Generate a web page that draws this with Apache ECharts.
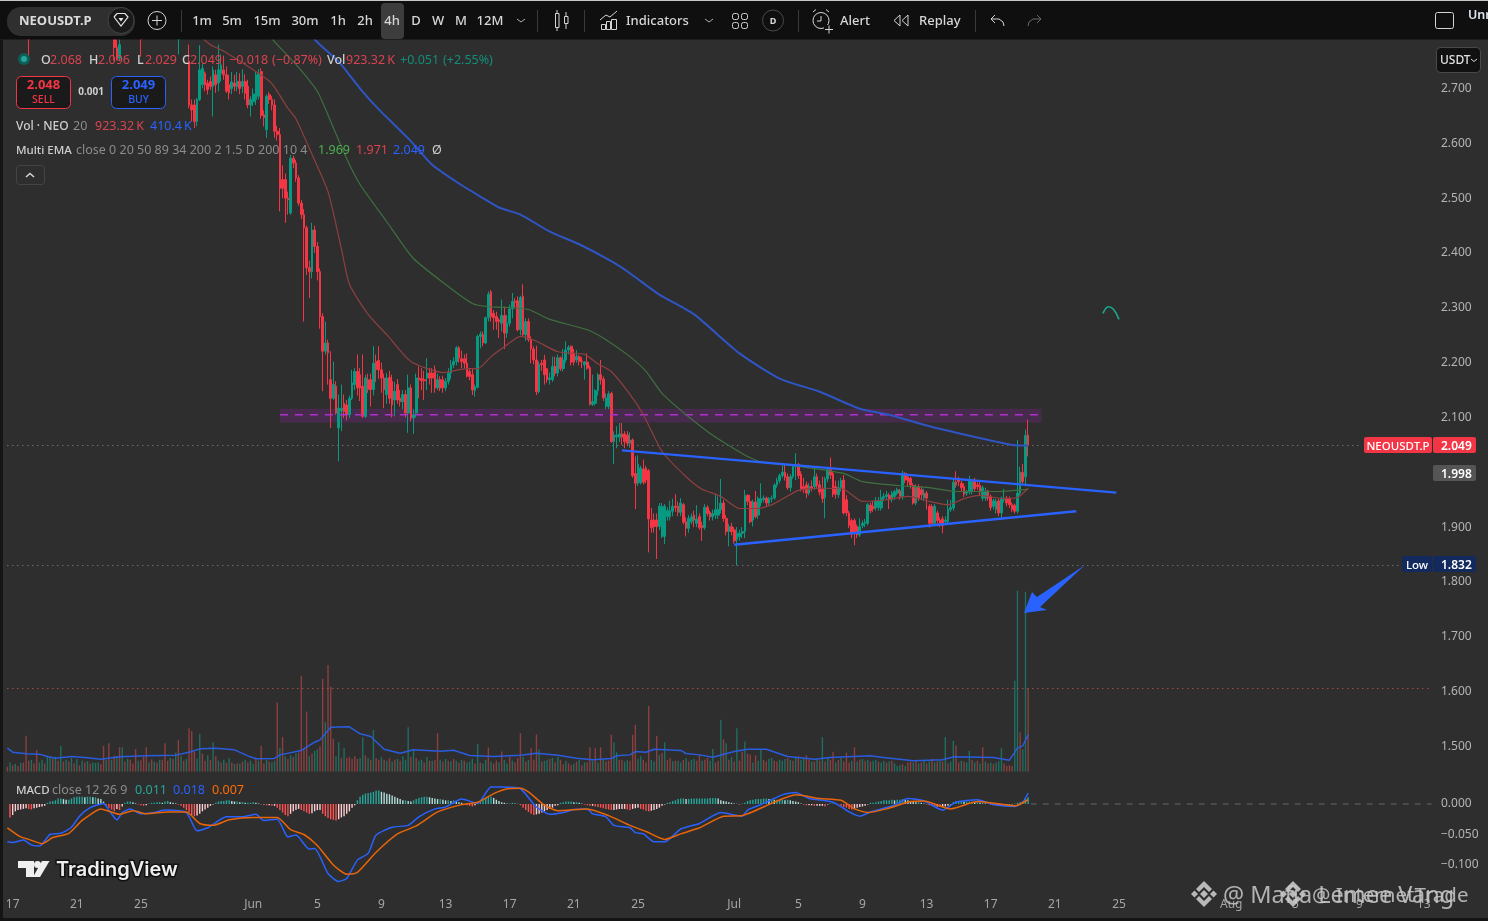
<!DOCTYPE html>
<html><head><meta charset="utf-8">
<script src="https://cdn.jsdelivr.net/npm/echarts@6/dist/echarts.min.js"></script>
<style>html,body{margin:0;padding:0;background:#2e2e2e}#c{width:1488px;height:921px}</style>
</head><body><div id="c"></div>
<script>
const _ = null;
const barCount = 534;
const tickLabels = ['17','21','25','Jun','5','9','13','17','21','25','Jul','5','9','13','17','21','25','Aug','5','9','13'];
const tickDays = [0,4,8,15,19,23,27,31,35,39,45,49,53,57,61,65,69,76,80,84,88];
const yPriceTicks = [1.4, 2.8, 0.1];
// bars that only poke into the top of the pane  [open, close, low, high]
const earlyCandles = [_,_,_,_,_,_,_,_,[2.80,2.79,2.751,2.81],_,_,_,_,_,_,_,_,_,_,_,_,_,_,_,_,_,_,_,_,_,_,_,_,_,_,_,_,_,_,_,
[2.80,2.775,2.751,2.81],[2.775,2.755,2.751,2.80],[2.755,2.78,2.75,2.81],_,_,_,_,_,_,_,[2.80,2.79,2.758,2.81],_,_,_,_,_,_,_,_,_,_,_,_,_,[2.79,2.80,2.762,2.81],_,_,_];
// visible candles [open, close, low, high]
const candlesMay = [
[2.750,2.670,2.664,2.780],[2.670,2.661,2.640,2.680],[2.670,2.640,2.628,2.680],[2.640,2.680,2.631,2.683],[2.680,2.734,2.677,2.779],[2.707,2.737,2.700,2.745],[2.728,2.707,2.695,2.731],[2.710,2.698,2.689,2.716],[2.713,2.704,2.698,2.722],[2.704,2.734,2.649,2.740],
[2.725,2.707,2.692,2.734],[2.710,2.734,2.695,2.780],[2.728,2.743,2.713,2.762],[2.734,2.725,2.716,2.760],[2.725,2.695,2.692,2.740],[2.707,2.692,2.680,2.725],[2.700,2.712,2.690,2.730],[2.710,2.704,2.695,2.725],[2.704,2.713,2.695,2.730],[2.713,2.700,2.690,2.728],
[2.704,2.713,2.692,2.735],[2.713,2.692,2.680,2.726],[2.704,2.670,2.664,2.716],[2.670,2.680,2.649,2.686],[2.676,2.690,2.668,2.700],[2.680,2.725,2.670,2.731],[2.686,2.728,2.680,2.735],[2.731,2.651,2.645,2.737],[2.652,2.647,2.631,2.660],[2.625,2.686,2.610,2.689],
[2.689,2.680,2.672,2.694],[2.680,2.670,2.660,2.686],[2.670,2.622,2.610,2.680],[2.622,2.616,2.605,2.632],[2.616,2.518,2.476,2.628],[2.534,2.518,2.500,2.560],[2.534,2.500,2.455,2.545],[2.500,2.497,2.470,2.512],[2.473,2.573,2.470,2.579],[2.573,2.564,2.555,2.578],
[2.564,2.537,2.530,2.570],[2.537,2.491,2.486,2.542],[2.491,2.470,2.462,2.497],[2.470,2.446,2.275,2.480],[2.446,2.373,2.360,2.450],[2.373,2.366,2.318,2.386],[2.366,2.442,2.354,2.455],[2.442,2.412,2.400,2.450],[2.412,2.366,2.350,2.420],[2.366,2.284,2.262,2.372],
[2.284,2.221,2.148,2.290],[2.221,2.236,2.215,2.275],[2.236,2.218,2.160,2.242],[2.169,2.135,2.081,2.221],[2.135,2.160,2.132,2.202],[2.157,2.108,2.105,2.166],[2.081,2.117,2.020,2.142],[2.112,2.117,2.075,2.160],[2.126,2.111,2.099,2.142],[2.123,2.105,2.095,2.132],
[2.105,2.135,2.099,2.140],[2.135,2.163,2.132,2.187],[2.160,2.184,2.150,2.190],[2.184,2.154,2.140,2.215],[2.178,2.154,2.130,2.190],[2.157,2.102,2.099,2.215],[2.102,2.172,2.099,2.178],[2.169,2.151,2.145,2.180],[2.169,2.151,2.120,2.180],[2.151,2.199,2.140,2.230],
[2.202,2.187,2.165,2.215],[2.204,2.187,2.170,2.230],[2.187,2.172,2.145,2.200],[2.172,2.151,2.117,2.180],[2.142,2.172,2.125,2.181],[2.173,2.135,2.125,2.185],[2.166,2.123,2.100,2.178],[2.132,2.148,2.102,2.165],[2.160,2.132,2.125,2.170],[2.135,2.129,2.120,2.150],
[2.129,2.142,2.115,2.150],[2.142,2.108,2.100,2.150],[2.108,2.154,2.072,2.178],[2.154,2.099,2.093,2.160],[2.099,2.105,2.070,2.115],[2.108,2.172,2.100,2.180],[2.172,2.169,2.135,2.193],[2.171,2.167,2.150,2.190],[2.169,2.167,2.132,2.185],[2.172,2.181,2.150,2.208],
[2.181,2.172,2.160,2.190],[2.181,2.172,2.145,2.190],[2.187,2.154,2.145,2.195],[2.154,2.169,2.150,2.180],[2.169,2.154,2.148,2.175],[2.169,2.154,2.145,2.176],[2.154,2.166,2.148,2.172],[2.166,2.181,2.160,2.190],[2.181,2.196,2.170,2.205],[2.196,2.202,2.190,2.210],
[2.202,2.227,2.195,2.230],[2.227,2.208,2.200,2.230]];
const candlesJune = [
[2.207,2.202,2.190,2.222],[2.207,2.199,2.190,2.215],[2.199,2.175,2.173,2.217],[2.184,2.175,2.168,2.190],[2.178,2.150,2.141,2.190],[2.149,2.156,2.138,2.160],[2.155,2.248,2.153,2.251],[2.248,2.252,2.226,2.257],[2.251,2.236,2.230,2.257],[2.236,2.282,2.234,2.284],
[2.282,2.325,2.275,2.330],[2.329,2.284,2.275,2.333],[2.290,2.282,2.260,2.296],[2.284,2.275,2.260,2.293],[2.278,2.275,2.245,2.281],[2.272,2.286,2.257,2.315],[2.286,2.254,2.225,2.302],[2.254,2.272,2.245,2.287],[2.272,2.298,2.266,2.306],[2.298,2.312,2.281,2.327],
[2.312,2.310,2.300,2.318],[2.313,2.260,2.257,2.321],[2.260,2.319,2.250,2.322],[2.321,2.251,2.248,2.343],[2.251,2.275,2.240,2.281],[2.275,2.242,2.238,2.281],[2.242,2.225,2.199,2.248],[2.225,2.205,2.197,2.230],[2.205,2.147,2.141,2.231],[2.147,2.197,2.144,2.202],
[2.199,2.196,2.185,2.205],[2.205,2.178,2.160,2.214],[2.189,2.169,2.163,2.190],[2.169,2.172,2.160,2.182],[2.169,2.193,2.165,2.211],[2.193,2.181,2.175,2.211],[2.181,2.209,2.175,2.215],[2.209,2.189,2.185,2.211],[2.189,2.205,2.184,2.225],[2.205,2.223,2.200,2.239],
[2.223,2.228,2.215,2.232],[2.230,2.201,2.195,2.231],[2.217,2.201,2.195,2.225],[2.205,2.211,2.200,2.223],[2.211,2.202,2.195,2.214],[2.203,2.201,2.190,2.210],[2.196,2.201,2.169,2.203],[2.201,2.190,2.187,2.217],[2.191,2.124,2.122,2.195],[2.124,2.129,2.121,2.178],
[2.126,2.149,2.122,2.152],[2.149,2.178,2.140,2.181],[2.178,2.169,2.160,2.205],[2.170,2.136,2.130,2.175],[2.120,2.136,2.115,2.144],[2.120,2.143,2.115,2.148],[2.144,2.056,2.054,2.147],[2.056,2.068,2.015,2.075],[2.065,2.068,2.044,2.084],[2.064,2.070,2.055,2.090],
[2.070,2.064,2.050,2.090],[2.070,2.056,2.044,2.075],[2.068,2.053,2.048,2.075],[2.053,2.059,2.045,2.073],[2.059,1.994,1.990,2.062],[1.998,1.980,1.933,2.029],[1.980,2.015,1.975,2.031],[1.981,2.008,1.978,2.012],[2.006,1.982,1.978,2.023],[2.008,1.986,1.980,2.012],
[2.003,1.915,1.854,2.006],[1.913,1.899,1.890,1.935],[1.913,1.901,1.890,1.925],[1.913,1.901,1.842,1.925],[1.901,1.938,1.895,1.944],[1.883,1.938,1.880,1.944],[1.883,1.938,1.869,1.942],[1.919,1.930,1.912,1.936],[1.919,1.930,1.912,1.948],[1.929,1.938,1.920,1.952],
[1.938,1.936,1.928,1.960],[1.938,1.927,1.920,1.947],[1.927,1.944,1.920,1.953],[1.941,1.909,1.905,1.944],[1.910,1.898,1.883,1.918],[1.898,1.916,1.890,1.922],[1.910,1.919,1.905,1.925],[1.922,1.913,1.900,1.930],[1.907,1.915,1.900,1.940],[1.919,1.899,1.895,1.925],
[1.903,1.899,1.875,1.910],[1.899,1.936,1.895,1.942],[1.936,1.925,1.920,1.940],[1.927,1.919,1.912,1.930],[1.919,1.925,1.912,1.932],[1.922,1.932,1.915,1.959],[1.922,1.932,1.915,1.956],[1.932,1.944,1.925,1.988],[1.944,1.916,1.910,1.950],[1.916,1.892,1.885,1.922],
[1.892,1.901,1.865,1.906],[1.901,1.892,1.885,1.908],[1.895,1.875,1.870,1.900],[1.878,1.889,1.830,1.900]];
const candlesJuly = [
[1.883,1.889,1.875,1.895],[1.889,1.892,1.880,1.900],[1.892,1.958,1.880,1.968],[1.958,1.947,1.940,1.960],[1.947,1.910,1.907,1.959],[1.913,1.946,1.901,1.950],[1.946,1.919,1.916,1.966],[1.922,1.952,1.915,1.956],[1.944,1.952,1.938,1.980],[1.950,1.953,1.945,1.958],
[1.953,1.944,1.938,1.956],[1.944,1.952,1.940,1.955],[1.952,1.953,1.945,1.958],[1.953,1.977,1.950,1.980],[1.977,1.985,1.972,1.990],[1.985,1.994,1.980,1.998],[1.994,2.000,1.990,2.017],[2.000,1.991,1.985,2.014],[1.992,1.972,1.968,1.998],[1.972,1.992,1.965,1.997],
[1.992,2.011,1.988,2.015],[2.011,2.012,1.986,2.035],[2.014,1.994,1.988,2.017],[1.997,1.970,1.965,2.002],[1.974,1.970,1.962,1.990],[1.977,1.962,1.953,1.983],[1.962,1.974,1.958,1.980],[1.974,1.971,1.965,1.985],[1.974,1.992,1.968,2.009],[1.992,1.976,1.970,1.998],
[1.977,1.964,1.958,1.985],[1.970,1.952,1.944,1.992],[1.954,1.988,1.916,1.992],[1.988,2.005,1.982,2.010],[2.005,1.995,1.988,2.027],[1.998,1.960,1.955,2.002],[1.974,1.960,1.952,1.985],[1.959,1.972,1.953,1.985],[1.972,1.985,1.965,1.990],[1.986,1.926,1.923,1.995],
[1.950,1.926,1.920,1.958],[1.926,1.903,1.898,1.930],[1.912,1.887,1.880,1.916],[1.912,1.889,1.867,1.916],[1.901,1.886,1.880,1.905],[1.886,1.901,1.882,1.916],[1.903,1.907,1.898,1.912],[1.907,1.909,1.900,1.915],[1.907,1.941,1.903,1.944],[1.940,1.930,1.925,1.945],
[1.938,1.934,1.928,1.948],[1.935,1.948,1.930,1.955],[1.936,1.948,1.930,1.955],[1.935,1.953,1.930,1.968],[1.953,1.956,1.948,1.962],[1.956,1.959,1.950,1.966],[1.958,1.950,1.933,1.962],[1.950,1.962,1.945,1.966],[1.956,1.965,1.950,1.968],[1.962,1.968,1.958,1.972],
[1.966,1.956,1.950,1.970],[1.956,1.998,1.950,2.003],[1.998,1.986,1.980,2.000],[1.992,1.983,1.975,1.996],[1.989,1.977,1.970,1.992],[1.976,1.944,1.941,1.980],[1.944,1.974,1.940,1.978],[1.974,1.953,1.948,1.978],[1.968,1.959,1.950,1.975],[1.953,1.962,1.948,1.970],
[1.962,1.953,1.932,1.966],[1.938,1.907,1.899,1.942],[1.938,1.907,1.903,1.942],[1.907,1.938,1.903,1.942],[1.926,1.912,1.905,1.930],[1.913,1.907,1.900,1.918],[1.915,1.903,1.889,1.920],[1.910,1.913,1.905,1.920],[1.910,1.932,1.905,1.950],[1.932,1.936,1.928,1.950],
[1.935,1.982,1.930,1.988],[1.982,1.977,1.972,2.002],[1.988,1.983,1.975,1.992],[1.980,1.972,1.966,1.985],[1.974,1.960,1.955,1.980],[1.962,1.964,1.957,1.968],[1.964,1.985,1.960,1.994],[1.966,1.983,1.960,1.988],[1.985,1.970,1.965,1.990],[1.977,1.974,1.968,1.982],
[1.976,1.964,1.958,1.986],[1.953,1.972,1.948,1.976],[1.953,1.966,1.948,1.972],[1.966,1.953,1.948,1.968],[1.956,1.936,1.930,1.960],[1.938,1.948,1.932,1.952],[1.932,1.947,1.925,1.952],[1.948,1.926,1.920,1.952],[1.926,1.953,1.913,1.956],[1.950,1.953,1.945,1.970],
[1.953,1.944,1.938,1.957],[1.952,1.941,1.935,1.956],[1.941,1.932,1.928,1.945],[1.940,1.929,1.925,1.943],[1.929,1.962,1.925,2.059],[1.962,2.000,1.958,2.010],[2.000,1.983,1.978,2.015],[1.992,2.067,1.978,2.078],[2.068,2.049,2.029,2.096]];

// moving averages as [bar, price]
const emaBlue = [[110,2.813],[117,2.780],[124,2.749],[132,2.700],[139,2.662],[150,2.609],[159,2.561],[168,2.530],[177,2.503],[184,2.483],[192,2.470],[203,2.439],[214,2.416],[226,2.385],[233,2.363],[244,2.324],[257,2.288],[274,2.217],[289,2.171],[304,2.147],[319,2.116],[330,2.105],[345,2.084],[358,2.069],[370,2.056],[378,2.049],[382,2.049]];
const emaGreen = [[95,2.813],[101,2.780],[108,2.744],[116,2.695],[121,2.640],[127,2.572],[132,2.525],[142,2.457],[152,2.390],[165,2.339],[174,2.308],[180,2.302],[186,2.301],[195,2.297],[203,2.279],[217,2.260],[224,2.242],[233,2.211],[239,2.184],[245,2.144],[254,2.105],[263,2.071],[270,2.049],[277,2.029],[283,2.018],[296,2.011],[313,1.998],[320,1.983],[333,1.976],[345,1.972],[355,1.965],[370,1.965],[382,1.969]];
const emaRed = [[68,2.813],[76,2.780],[81,2.768],[93,2.731],[99,2.709],[105,2.664],[108,2.645],[114,2.580],[120,2.512],[125,2.408],[128,2.343],[135,2.288],[142,2.251],[151,2.202],[163,2.182],[172,2.189],[176,2.189],[181,2.211],[186,2.229],[192,2.248],[198,2.239],[206,2.220],[216,2.215],[221,2.198],[226,2.184],[233,2.142],[238,2.105],[245,2.038],[254,1.992],[260,1.969],[267,1.956],[274,1.934],[281,1.934],[287,1.943],[296,1.967],[304,1.971],[313,1.969],[320,1.947],[329,1.950],[337,1.956],[345,1.947],[352,1.941],[358,1.952],[364,1.958],[373,1.952],[378,1.954],[382,1.971]];
const trendUpper = [[230,2.040],[415,1.963]];
const trendLower = [[272,1.868],[400,1.929]];
const tealMark = [[410,2.290],[412,2.302],[414,2.297],[416,2.279]];
const supplyZone = [102,387,2.091,2.116];
const supplyMid = [[102,2.105],[387,2.105]];
const lastLine = [[0,2.049],[507,2.049]];
const lowLine = [[0,1.830],[521,1.830]];

// volume in thousands; negative = down bar (red)
const volumes = [
-50,100,-70,85,-60,95,-100,-397,-120,130, -90,-240,100,130,-90,175,165,-140,165,-120,
285,-110,130,-110,150,-90,140,-70,120,-100, 115,-85,100,95,100,-80,-285,125,-315,130,
-175,170,-270,270,-110,140,-130,-90,-250,120, -125,-165,-270,100,-135,110,-100,130,-130,-315,
-120,150,-140,210,-350,170,-120,140,-482,-452, -220,145,420,-200,-120,180,-130,326,-170,120,
-100,130,-95,150,-100,85,-90,90,-110,130, -100,120,85,-150,120,-285,-90,130,-110,100,
120,-768,265,-382,170,-140,180,-160,200,-210, -1064,-250,-667,170,-200,230,245,-280,-1031,549,
-1186,-945,-363,170,326,-150,265,-150,-160,-140, -170,-140,150,378,-180,150,-130,463,-150,-130,
160,-130,120,-150,110,-130,140,-120,170,130, 493,-160,250,-150,120,130,-100,160,-120,120,
-130,-426,130,-110,140,-120,110,-140,120,-100, 130,-120,100,110,140,-90,308,-100,90,130,
-268,110,-90,-120,100,-222,130,90,-160,120,-100,-150, -426,165,-110,130,-260,-130,-412,248,
-110,120,130,-140,150,-100,160,-130,-80,120, -90,-70,85,-110,130,-70,100,-100,-270,120,
-260,100,-270,130,-110,-120,-408,326,215,-130, -130,110,125,-120,-408,-519,140,170,-130,-100,
-730,130,110,-397,185,-210,326,-130,-150,115, -120,120,100,-130,150,-110,130,140,-120,-190,
120,-130,-150,120,250,-100,-120,575,-360,315, -130,160,-110,482,-120,-220,333,-200,-190,100,
-180,120,248,-130,-110,140,150,-120,-110,130, 120,140,-150,130,-120,160,-170,130,150,-180,
-130,110,-110,140,-120,382,-110,150,-130,-220, 100,-130,150,-110,-210,-100,120,-270,110,-130,
140,-120,130,-110,120,130,-110,100,120,-100, 110,-120,90,60,70,-80,60,-100,-110,100,
-120,90,-100,130,-90,110,-140,100,-110,120, -110,382,-90,110,341,-290,-100,120,-110,100,
230,-130,100,-120,90,-270,110,-90,100,-85, 100,115,260,-90,-60,-70,-60,1009,2013,-437,248,2000,-923];
const volumeSma = [[0,260],[2,215],[7,197],[12,193],[15,167],[18,148],[24,167],[30,152],[35,137],[42,163],[52,174],[63,182],[68,215],[72,252],[78,260],[85,241],[90,174],[93,141],[100,145],[102,185],[110,234],[115,326],[117,352],[121,493],[128,497],[132,419],[136,389],[141,248],[147,204],[152,241],[162,226],[167,237],[173,178],[182,167],[192,180],[198,204],[206,182],[213,148],[219,130],[226,145],[228,174],[233,185],[235,222],[239,215],[242,248],[252,234],[254,200],[259,185],[264,159],[272,222],[277,248],[284,248],[292,167],[302,137],[308,156],[323,174],[327,159],[339,119],[350,130],[354,163],[369,156],[375,126],[378,260],[380,285],[382,410.4]];
const volumeLast = [[0,923.32],[533,923.32]];

// MACD
const macdLine = [[0,-.062],[2,-.063],[6,-.059],[9,-.067],[12,-.069],[16,-.050],[20,-.048],[24,-.038],[27,-.020],[31,-.006],[36,.001],[38,-.010],[41,-.026],[43,-.014],[46,-.008],[50,-.016],[55,-.014],[59,-.010],[67,-.014],[71,-.044],[75,-.039],[82,-.021],[88,-.021],[93,-.017],[96,-.027],[101,-.025],[105,-.054],[108,-.051],[113,-.074],[115,-.073],[120,-.114],[124,-.127],[127,-.122],[131,-.092],[135,-.081],[138,-.051],[144,-.038],[150,-.035],[154,-.021],[160,-.008],[164,-.005],[170,.008],[176,.001],[181,.028],[186,.028],[192,.025],[198,-.005],[203,-.017],[208,-.014],[212,-.009],[217,-.008],[219,-.016],[224,-.021],[227,-.035],[233,-.039],[235,-.047],[238,-.049],[242,-.062],[246,-.062],[252,-.041],[259,-.032],[267,-.014],[275,-.020],[277,-.010],[282,-.001],[290,.015],[295,.019],[300,.009],[309,.003],[315,-.013],[319,-.020],[323,-.013],[332,-.002],[337,.009],[343,.005],[350,-.010],[355,.003],[363,.007],[369,-.001],[377,-.004],[380,.003],[382,.018]];
const macdSignal = [[0,-.039],[5,-.054],[8,-.058],[13,-.065],[17,-.055],[23,-.048],[28,-.027],[35,-.008],[42,-.017],[47,-.011],[52,-.016],[60,-.013],[67,-.013],[72,-.032],[77,-.035],[83,-.026],[92,-.022],[101,-.022],[106,-.042],[111,-.050],[116,-.068],[122,-.100],[127,-.115],[131,-.112],[138,-.079],[146,-.049],[153,-.036],[161,-.013],[170,-.001],[176,.003],[182,.017],[187,.025],[192,.026],[195,.020],[201,-.002],[206,-.011],[217,-.008],[225,-.019],[233,-.035],[239,-.045],[246,-.058],[252,-.049],[259,-.039],[268,-.020],[275,-.019],[286,.001],[295,.015],[304,.009],[312,.006],[317,-.008],[322,-.014],[329,-.008],[338,.004],[343,.005],[353,-.008],[363,.004],[370,.001],[377,-.003],[382,.007]];
// histogram in thousandths
const macdHistMilli = [
-22,-18,-12,-10,-9,-8,-7,-8,-9,-7,-6,-5,-4,-3,
2,4,5,6,9,9,8,7,7,9,11,12,12,12,11,12,12,11,11,9,8,4,
-2,-6,-9,-12,-8,-10,-4,2,4,4,3,1,-1,-2,-3,-2,1,
2,2,3,3,2,4,5,3,2,1,-1,-3,-6,-10,-14,-18,-20,-19,-16,-12,-9,-6,-3,-1,
2,4,5,5,6,6,5,4,4,3,3,2,2,2,3,2,1,-1,-1,-2,-2,-3,-3,
-6,-10,-14,-18,-20,-16,-12,-10,-8,-10,-12,-14,-16,-15,-12,-10,-10,-16,-20,-23,-25,-26,-27,-25,-22,-20,-16,-12,-6,-2,
6,12,15,17,18,19,20,22,22,20,19,17,16,14,12,10,
8,6,6,5,4,6,8,10,11,12,12,11,10,9,8,8,7,6,6,5,6,4,3,2,
-1,-2,-3,-4,-2,1,4,8,10,12,12,10,7,5,3,2,1,1,2,1,1,
-2,-6,-10,-13,-16,-18,-17,-16,-14,-12,-10,-8,-6,-3,-2,2,3,4,4,4,3,3,2,1,-1,
-2,-3,-3,-4,-5,-6,-7,-8,-9,-10,-10,-9,-8,-8,-8,-9,-10,-8,-7,-6,-8,-9,-11,-12,-11,-10,-8,-6,-3,-1,
2,3,5,6,8,9,9,8,8,9,9,9,9,9,9,9,10,10,10,9,6,5,4,3,2,1,1,-1,1,2,
5,6,7,8,8,8,9,9,8,8,7,7,7,7,6,7,6,5,4,3,1,-1,-2,-2,-2,-3,-3,
-3,-3,-4,-1,1,1,1,-1,-3,-5,-6,-8,-9,-8,-6,-5,-4,-3,-1,2,2,3,4,5,
6,6,6,7,6,7,7,8,7,6,5,4,3,3,2,1,-1,-2,-3,-4,-4,-5,-5,-4,-3,
-1,3,5,5,5,4,4,4,4,3,3,2,2,1,1,-1,-2,-3,-3,-2,-2,-2,-1,-1,1,2,3,5,9,11];
const macdZero = [[383,0],[533,0]];

const UP='#089981', DOWN='#f23645', TXT='#d6d6d6', DIM='#8c8c8c', REDT='#d9434f', GRT='#138d7a', BLU='#2962ff';
const FONT='"Noto Sans", sans-serif';

const categories = Array.from({length:barCount},(_v,i)=>String(i));
const labelAt = {};
tickDays.forEach((d,k)=>{labelAt[2+d*6]=tickLabels[k];});
const allCandles = [...earlyCandles,...candlesMay,...candlesJune,...candlesJuly];
const candleOffset = 383-allCandles.length;
const candleData = allCandles.map(c=>c||['-','-','-','-']);
const candleFinal = [...Array(Math.max(candleOffset,0)).fill(['-','-','-','-']),...candleData];
const volOffset = 383-volumes.length;
const volData = [...Array(Math.max(volOffset,0)).fill(0),...volumes];
const histOffset = 383-macdHistMilli.length;
const histRaw = [...Array(Math.max(histOffset,0)).fill(0),...macdHistMilli].map(v=>v/1000);
function histColor(i){const v=histRaw[i],p=i?histRaw[i-1]:v;return v>=0?(v>=p?'#26a69a':'#b2dfdb'):(v<p?'#ff5252':'#ffcdd2');}

// drawing helpers for the surrounding interface
const T=(x,y,text,fill,size,weight,align,extra)=>({type:'text',z:110,silent:true,x,y,style:Object.assign({text,fill:fill||TXT,font:`${weight||400} ${size||13}px ${FONT}`,textAlign:align||'left',textVerticalAlign:'middle'},extra||{})});
const R=(x,y,w,h,fill,stroke,r,z)=>({type:'rect',z:z||105,silent:true,shape:{x,y,width:w,height:h,r:r||0},style:{fill:fill||'transparent',stroke:stroke||null,lineWidth:1}});
const Ln=(x1,y1,x2,y2,stroke,w)=>({type:'line',z:108,silent:true,shape:{x1,y1,x2,y2},style:{stroke:stroke||'#d6d6d6',lineWidth:w||1}});
const PL=(pts,stroke,w)=>({type:'polyline',z:108,silent:true,shape:{points:pts},style:{stroke:stroke||'#d6d6d6',lineWidth:w||1,fill:null}});
const PG=(pts,fill,z,op)=>({type:'polygon',z:z||108,silent:true,shape:{points:pts},style:{fill,opacity:op==null?1:op}});
const Ci=(cx,cy,r,fill,stroke,w)=>({type:'circle',z:108,silent:true,shape:{cx,cy,r},style:{fill:fill||'transparent',stroke:stroke||null,lineWidth:w||1}});

const G=[];
const TB=21.5;
G.push(R(0,0,1488,39.5,'#0f0f0f',null,0,104));
G.push(R(0,0,1488,1,'#c8c8c8',null,0,106));
G.push(R(0,39.5,3,881.5,'#151515',null,0,104));
G.push(R(0,918,1488,3,'#151515',null,0,104));
// symbol pill
G.push(R(7,7,128,29,'#2f2f2f',null,14));
G.push(T(19,TB,'NEOUSDT.P','#dbdbdb',13,700));
G.push(Ci(121,20.5,13,'#1a1a1a','#444'));
G.push(PL([[114,17],[117,13.5],[125,13.5],[128,17],[121,26],[114,17]],'#e6e6e6',1.2));
G.push(PG([[118.5,18],[123.5,18],[121,21.5]],'#e6e6e6',109));
G.push(Ci(157,20.5,9,null,'#d6d6d6'));G.push(Ln(152,20.5,162,20.5));G.push(Ln(157,15.5,157,25.5));
G.push(Ln(181.5,10,181.5,32,'#3a3a3a'));
G.push(R(381,3,23,36,'#3d3d3d',null,4));
[['1m',202],['5m',232],['15m',267],['30m',305],['1h',338],['2h',365],['4h',392],['D',416],['W',438],['M',461],['12M',490]].forEach(a=>G.push(T(a[1],TB,a[0],TXT,13,500,'center')));
G.push(PL([[517,19],[521,22],[525,19]],'#b0b0b0'));
G.push(Ln(537.5,10,537.5,32,'#3a3a3a'));
// candle icon
G.push(R(555.5,13.5,3.5,14,null,'#d6d6d6',0,108));G.push(Ln(557,10,557,13));G.push(Ln(557,28,557,31));
G.push(R(564.5,16.5,3.5,7,null,'#d6d6d6',0,108));G.push(Ln(566,12,566,16));G.push(Ln(566,24,566,29));
G.push(Ln(584.5,10,584.5,32,'#3a3a3a'));
// indicators icon
G.push(PL([[600,20],[606,15],[610,17],[617,11]]));G.push(R(601.5,24.5,4,5,null,'#d6d6d6',0,108));G.push(R(606.5,21.5,4,8,null,'#d6d6d6',0,108));G.push(R(611.5,19.5,5,10,null,'#d6d6d6',0,108));
G.push(T(626,TB,'Indicators',TXT,13,500));
G.push(PL([[705,19],[709,22],[713,19]],'#b0b0b0'));
[[732.5,13.5],[741.5,13.5],[732.5,22.5],[741.5,22.5]].forEach(p=>G.push(R(p[0],p[1],6,6,null,'#d6d6d6',2,108)));
G.push(Ci(773,20.5,10.5,null,'#4a4a4a'));G.push(T(773,21,'D',TXT,9,700,'center'));
G.push(Ln(798.5,10,798.5,32,'#3a3a3a'));
// alert icon
G.push(Ci(821,20.5,8,null,'#d6d6d6'));G.push(PL([[821,16],[821,21],[817,21]]));G.push(Ln(813,12,816,9.5));G.push(Ln(829,12,826,9.5));
G.push(R(824,25,9,8,'#0f0f0f',null,0,108));G.push(Ln(825,29.5,833,29.5));G.push(Ln(829,25.5,829,33.5));
G.push(T(840,TB,'Alert',TXT,13,500));
G.push(PL([[900,15],[894,20.5],[900,26],[900,15]]));G.push(PL([[908,15],[902,20.5],[908,26],[908,15]]));
G.push(T(919,TB,'Replay',TXT,13,500));
G.push(Ln(975.5,10,975.5,32,'#3a3a3a'));
G.push(PL([[995,15],[991,19],[995,23]]));G.push(PL([[991,19],[999,19],[1003,22],[1004,26]]));
G.push(PL([[1037,15],[1041,19],[1037,23]],'#6a6a6a'));G.push(PL([[1041,19],[1033,19],[1029,22],[1028,26]],'#6a6a6a'));
G.push(R(1435.5,12.5,18,16,null,'#d6d6d6',2,108));
G.push(T(1468,15.5,'Unr','#dfe7f2',12.5,600));
G.push(R(1436.5,47.5,44,25,'#111111','#4a4a4a',4,108));
G.push(T(1440,61,'USDT','#e0e0e0',12,500));G.push(PL([[1471,59],[1474,61.5],[1477,59]],'#d6d6d6'));
// legend
G.push(Ci(24,59,6,'#0f5f56',null));G.push(Ci(24,59,3,'#26a69a',null));
[['O',41],['H',89],['L',137],['C',182]].forEach(a=>G.push(T(a[1],60,a[0],'#cfcfcf',12.5,500)));
[['2.068',50],['2.096',98],['2.029',145],['2.049',190],['\u22120.018',229],['(\u22120.87%)',272],['923.32\u202FK',346]].forEach(a=>G.push(T(a[1],60,a[0],REDT,12.5)));
G.push(T(327,60,'Vol','#cfcfcf',12.5,500));
G.push(T(400,60,'+0.051',GRT,12.5));G.push(T(443,60,'(+2.55%)',GRT,12.5));
G.push(R(16.5,76.5,54,32,'#1a1a1a','#f23645',5,108));G.push(T(43.5,85.5,'2.048','#f23645',13,700,'center',{}));G.push(T(43.5,100,'SELL','#f23645',10.5,500,'center'));
G.push(T(91,92,'0.001','#cfcfcf',10,700,'center'));
G.push(R(111.5,76.5,54,32,'#1a1a1a','#2962ff',5,108));G.push(T(138.5,85.5,'2.049',BLU,13,700,'center'));G.push(T(138.5,100,'BUY',BLU,10.5,500,'center'));
G.push(T(16,126.5,'Vol \u00b7 NEO','#cfcfcf',12,500));G.push(T(73,126.5,'20',DIM,12.5));G.push(T(95,126.5,'923.32\u202FK',REDT,12.5));G.push(T(150,126.5,'410.4\u202FK',BLU,12.5));
G.push(T(16,150.5,'Multi EMA','#cfcfcf',11.5,500));G.push(T(76,150.5,'close 0 20 50 89 34 200 2 1.5 D 200 10 4',DIM,12.5));
G.push(T(318,150.5,'1.969','#4caf50',12.5));G.push(T(356,150.5,'1.971',REDT,12.5));G.push(T(393,150.5,'2.049',BLU,12.5));G.push(T(432,150.5,'\u00d8','#cfcfcf',12.5));
G.push(R(16.5,165.5,28,19,null,'#444444',3,108));G.push(PL([[26,177],[30,173.5],[34,177]],'#d6d6d6',1.5));
G.push(T(16,790.5,'MACD','#cfcfcf',11.5,500));G.push(T(52,790.5,'close 12 26 9',DIM,12.5));G.push(T(135,790.5,'0.011','#26a69a',12.5));G.push(T(173,790.5,'0.018',BLU,12.5));G.push(T(212,790.5,'0.007','#ff6d00',12.5));
// price badges
G.push(R(1364,437,68,16,'#f23645',null,2));G.push(T(1398,446.5,'NEOUSDT.P','#ffffff',11.5,500,'center'));
G.push(R(1433,437,43,16,'#f23645',null,2));G.push(T(1441,446.5,'2.049','#ffffff',12,600));
G.push(R(1433,465,43,16,'#555555',null,2));G.push(T(1441,474.5,'1.998','#ffffff',12,600));
G.push(R(1402,556,30,16,'#132a5e',null,2));G.push(T(1417,565.5,'Low','#ffffff',11.5,500,'center'));
G.push(R(1433,556,43,16,'#132a5e',null,2));G.push(T(1441,565.5,'1.832','#ffffff',12,600));
// arrow annotation
G.push(PG([[1085,565],[1037,597],[1032,592],[1024,613],[1047,610],[1040,607]],'#2962ff',108));
// logo
G.push(PG([[18,861],[34,861],[34,877],[26,877],[26,868],[18,868]],'#efefef'));
G.push(Ci(37.5,864.5,3.5,'#efefef'));
G.push(PG([[42,861],[49.5,861],[40,877],[33,877]],'#efefef'));
G.push(T(56,870,'TradingView','#eeeeee',20,600,'left',{font:`600 20px Inter, ${FONT}`,stroke:'#111111',lineWidth:3}));
// watermarks
function diamond(cx,cy){
 const c='#c9c9c9';
 G.push(PG([[cx,cy-4],[cx+4,cy],[cx,cy+4],[cx-4,cy]],c,112,.9));
 G.push(PG([[cx-13,cy],[cx-9.5,cy-3.5],[cx-6,cy],[cx-9.5,cy+3.5]],c,112,.9));
 G.push(PG([[cx+13,cy],[cx+9.5,cy-3.5],[cx+6,cy],[cx+9.5,cy+3.5]],c,112,.9));
 G.push(PG([[cx,cy-13],[cx+8,cy-5],[cx+5,cy-2],[cx,cy-7],[cx-5,cy-2],[cx-8,cy-5]],c,112,.9));
 G.push(PG([[cx,cy+13],[cx+8,cy+5],[cx+5,cy+2],[cx,cy+7],[cx-5,cy+2],[cx-8,cy+5]],c,112,.9));
}
diamond(1204,894);diamond(1293,894);
G.push(T(1223,896,'@ Mafia Lemee Vang','#c9c9c9',23.5,400,'left',{opacity:.85}));
G.push(T(1312,896,'@ InternetTrade','#c9c9c9',20.5,400,'left',{opacity:.85}));

const lineS=(name,data,color,width,xi,yi,extra)=>Object.assign({name,type:'line',data,xAxisIndex:xi,yAxisIndex:yi,symbol:'none',animation:false,silent:true,lineStyle:{color,width},z:3},extra||{});

const option={
 animation:false,backgroundColor:'#2e2e2e',
 textStyle:{fontFamily:FONT},
 grid:[
  {left:6,width:1427,top:33.7,height:767.6},
  {left:6,width:1427,top:555.8,height:215.7},
  {left:6,width:1427,top:773.5,height:122}
 ],
 xAxis:[0,1,2].map(k=>({type:'category',gridIndex:k,data:categories,boundaryGap:true,
   axisLine:{show:false},axisTick:{show:false},splitLine:{show:false},
   axisLabel:k===2?{show:true,interval:i=>labelAt[i]!==undefined,formatter:(v,i)=>labelAt[i]||'',color:'#a6a6a6',fontSize:12,margin:3,fontFamily:FONT,hideOverlap:false}:{show:false}})),
 yAxis:[
  {type:'value',gridIndex:0,position:'right',min:yPriceTicks[0],max:yPriceTicks[1],interval:yPriceTicks[2],axisLine:{show:false},axisTick:{show:false},splitLine:{show:false},
   axisLabel:{margin:8,color:'#b4b4b4',fontSize:12,fontFamily:FONT,showMinLabel:false,showMaxLabel:false,formatter:v=>(v>1.45&&v<2.75&&Math.abs(v-2)>.01)?v.toFixed(3):''}},
  {type:'value',gridIndex:1,position:'right',min:0,max:2400,axisLine:{show:false},axisTick:{show:false},splitLine:{show:false},axisLabel:{show:false}},
  {type:'value',gridIndex:2,position:'right',min:-0.15,max:0.05,interval:0.05,axisLine:{show:false},axisTick:{show:false},splitLine:{show:false},
   axisLabel:{margin:8,color:'#b4b4b4',fontSize:12,fontFamily:FONT,formatter:v=>Math.abs(v)<1e-6?'0.000':(v<-0.14||v>0.04)?'':(v<0?'\u2212':'')+Math.abs(v).toFixed(3)}}
 ],
 series:[
  {name:'volume',type:'bar',xAxisIndex:1,yAxisIndex:1,barWidth:1.4,z:1,silent:true,animation:false,
   data:volData.map(v=>({value:Math.abs(v),itemStyle:{color:v<0?'#8b3f3f':'#1f6e60'}}))},
  lineS('zone',supplyMid,'#b030cc',1.5,0,0,{z:4,lineStyle:{color:'#b030cc',width:1.5,type:[8,7]},
    markArea:{silent:true,z:1,itemStyle:{color:'#472b4c'},data:[[{xAxis:supplyZone[0],yAxis:supplyZone[2]},{xAxis:supplyZone[1],yAxis:supplyZone[3]}]]}}),
  lineS('last',lastLine,'#a08a80',1,0,0,{z:2,lineStyle:{color:'#a08a80',width:1,type:[1,4]}}),
  lineS('low',lowLine,'#8c8c8c',1,0,0,{z:2,lineStyle:{color:'#8c8c8c',width:1,type:[1,4]}}),
  lineS('volLast',volumeLast,'#e05a55',1,1,1,{z:2,lineStyle:{color:'#e05a55',width:1,type:[1,4]}}),
  {name:'price',type:'candlestick',xAxisIndex:0,yAxisIndex:0,barWidth:2.2,clip:true,z:3,silent:true,animation:false,
   data:candleFinal,itemStyle:{color:UP,color0:DOWN,borderColor:UP,borderColor0:DOWN,borderWidth:1}},
  lineS('ema200',emaBlue,'#2f55c4',2,0,0,{z:4,smooth:.2}),
  lineS('ema50',emaGreen,'#3f7040',1.2,0,0,{z:4,smooth:.2}),
  lineS('ema20',emaRed,'#8f3f3f',1.2,0,0,{z:4,smooth:.2}),
  lineS('upper',trendUpper,'#2962ff',2.4,0,0,{z:5}),
  lineS('lower',trendLower,'#2962ff',2.4,0,0,{z:5}),
  lineS('mark',tealMark,'#1aa88f',1.6,0,0,{z:5,smooth:.4}),
  lineS('volSma',volumeSma,'#2a5ce0',1.5,1,1,{z:4}),
  {name:'hist',type:'bar',xAxisIndex:2,yAxisIndex:2,barWidth:1.4,z:2,silent:true,animation:false,
   data:histRaw.map((v,i)=>({value:v,itemStyle:{color:histColor(i)}}))},
  lineS('zero',macdZero,'#666666',1,2,2,{z:2,lineStyle:{color:'#666666',width:1,type:[6,6]}}),
  lineS('macd',macdLine,'#2962ff',1.5,2,2,{z:4,smooth:.2}),
  lineS('signal',macdSignal,'#e8650a',1.5,2,2,{z:5,smooth:.2})
 ],
 graphic:{elements:G}
};
const chart=echarts.init(document.getElementById('c'),null,{renderer:'canvas',width:1488,height:921});
chart.setOption(option);
</script></body></html>
